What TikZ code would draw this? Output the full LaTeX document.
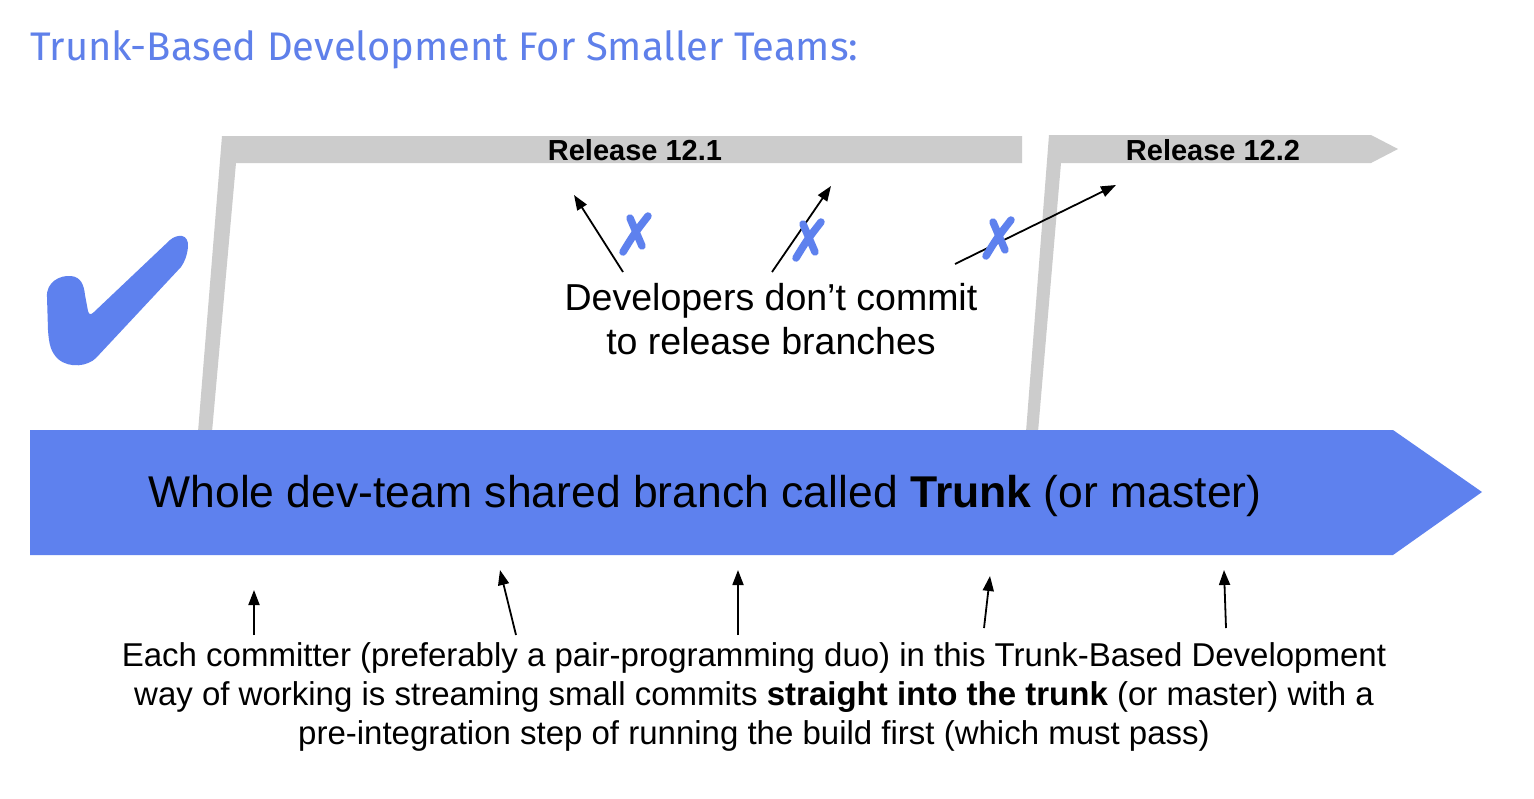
\documentclass[tikz,border=0pt]{standalone}
\usepackage{fontspec}
\setmainfont{Liberation Sans}
\newfontfamily\titlefont{Fira Sans}
\usetikzlibrary{arrows.meta}
\definecolor{tbblue}{HTML}{5E81EE}
\definecolor{titleblue}{HTML}{5F80EA}
\definecolor{relgray}{HTML}{CCCCCC}
\begin{document}
\begin{tikzpicture}[x=1pt,y=-1pt,
  arr/.style={line width=1.8pt,-{Triangle[length=15pt,width=11pt]}},
  xmark/.style={tbblue,line width=7.5pt,line cap=round},
  rellabel/.style={font=\fontsize{29}{32}\selectfont\bfseries,inner sep=0pt,anchor=base},
  branch/.style={fill=relgray,draw=none}]
\useasboundingbox (0,0) rectangle (1534,798);
\fill[white] (0,0) rectangle (1534,798);

% title
\node[anchor=base west,inner sep=0pt,text=titleblue] (title) at (30,60)
  {\resizebox{828pt}{!}{\titlefont\fontsize{30}{36}\selectfont Trunk-Based Development For Smaller Teams:}};

% release branches
\fill[branch] (222,136) -- (1022,136) -- (1022,163) -- (236,163) -- (212,432) -- (198,432) -- cycle;
\fill[branch] (1049,135) -- (1371,135) -- (1398,149) -- (1371,163) -- (1061,163) -- (1038,432) -- (1026,432) -- cycle;
\node[rellabel] (r121) at (635,160) {Release 12.1};
\node[rellabel] (r122) at (1213,160) {Release 12.2};

% trunk
\fill[tbblue] (30,430) -- (1393,430) -- (1482,492) -- (1393,555) -- (30,555) -- cycle;
\node[anchor=base,inner sep=0pt,font=\fontsize{44.5}{50}\selectfont] (trunk) at (705,507)
  {Whole dev-team shared branch called \textbf{Trunk} (or master)};

% check mark
\fill[tbblue] (47,297) .. controls (46,282) and (60,275) .. (71,276)
  .. controls (81,277) and (84,285) .. (85,295) -- (88,311)
  .. controls (89,315) and (91,315) .. (94,312) -- (170,240)
  .. controls (177,234) and (189,233) .. (188,247)
  .. controls (187,256) and (185,261) .. (181,267) -- (96,358)
  .. controls (88,366) and (70,369) .. (58,359)
  .. controls (51,352) and (49,345) .. (48,330) -- cycle;

% developers text
\node[align=center,inner sep=0pt,font=\fontsize{37.5}{44}\selectfont] (dev) at (771,319)
  {Developers don’t commit\\to release branches};

% top arrows
\coordinate (t1) at (623,272); \coordinate (h1) at (574,195);
\coordinate (t2) at (772,272); \coordinate (h2) at (831,186);
\coordinate (t3) at (955,264); \coordinate (h3) at (1116,185);
\draw[arr] (t1) -- (h1);
\draw[arr] (t2) -- (h2);
\draw[arr] (t3) -- (h3);

% blue crosses
\coordinate (x1) at (636,234);
\coordinate (x2) at (809,240);
\coordinate (x3) at (999,238);
\foreach \c in {x1,x2,x3}{
  \draw[xmark] ([shift={(-13,18)}]\c) .. controls ([shift={(-2,0)}]\c) .. ([shift={(12,-18)}]\c);
  \draw[xmark] ([shift={(-6,-16)}]\c) -- ([shift={(6,12)}]\c);
}

% bottom text
\node[align=center,inner sep=0pt,font=\fontsize{33}{39}\selectfont] (bottom) at (754,697)
  {Each committer (preferably a pair-programming duo) in this Trunk-Based Development\\
   way of working is streaming small commits \textbf{straight into the trunk} (or master) with a\\
   pre-integration step of running the build first (which must pass)};

% bottom arrows
\coordinate (b1t) at (254,635); \coordinate (b1h) at (254,590);
\coordinate (b2t) at (516,635); \coordinate (b2h) at (500,570);
\coordinate (b3t) at (738,635); \coordinate (b3h) at (738,570);
\coordinate (b4t) at (984,628); \coordinate (b4h) at (990,576);
\coordinate (b5t) at (1226,628); \coordinate (b5h) at (1224,570);
\foreach \i in {1,...,5}{\draw[arr] (b\i t) -- (b\i h);}
\end{tikzpicture}
\end{document}
